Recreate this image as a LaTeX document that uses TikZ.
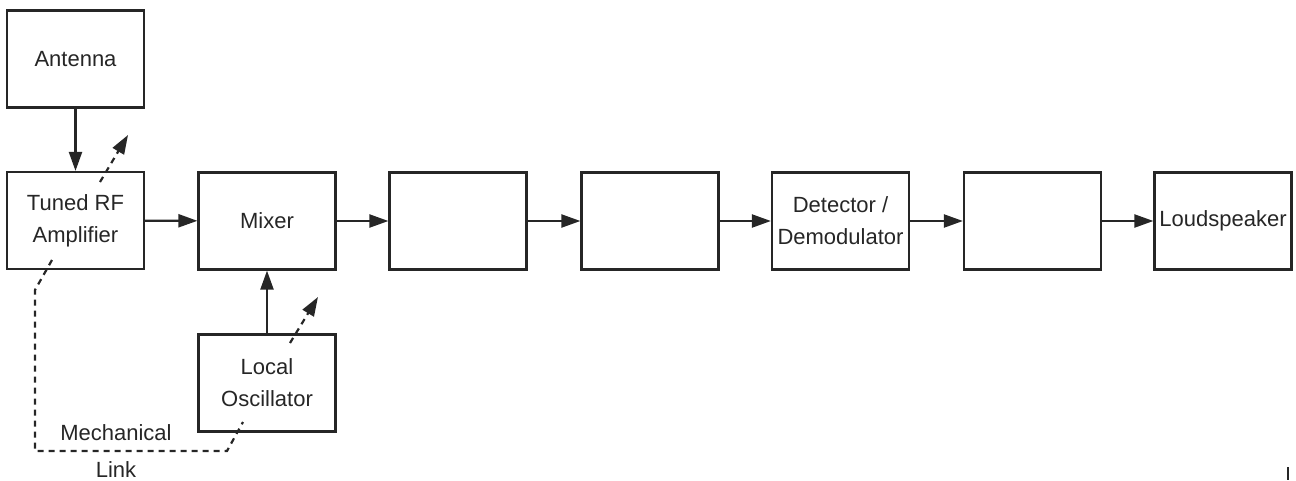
\documentclass[tikz,border=0pt]{standalone}
\usepackage{fontspec}
\setmainfont{Liberation Sans}
\usetikzlibrary{arrows.meta}
\begin{document}
\begin{tikzpicture}[x=1pt,y=-1pt,
  blk/.style={draw=black!85,line width=2.2pt,minimum width=137pt,minimum height=97pt,inner sep=0pt,align=center,font=\fontsize{22}{32}\selectfont,text=black!85},
  conn/.style={line width=2.2pt,draw=black!85,-{Triangle[length=19pt,width=13pt,fill=black!85]}},
  dconn/.style={line width=2.2pt,draw=black!85,dash pattern=on 6pt off 5pt,-{Triangle[length=19pt,width=13pt,fill=black!85]}},
  mlink/.style={line width=2.2pt,draw=black!85,dash pattern=on 6pt off 5pt},
  lbl/.style={font=\fontsize{22}{32}\selectfont,text=black!85,inner sep=0pt,anchor=base}]
\useasboundingbox (0,0) rectangle (1296,480);
\node[blk] (ant) at (75.5,59) {Antenna};
\node[blk] (rf) at (75.5,220.5) {Tuned RF\\Amplifier};
\node[blk] (mix) at (267,221) {Mixer};
\node[blk] (b3) at (458,221) {};
\node[blk] (b4) at (650,221) {};
\node[blk] (det) at (840.5,221) {Detector /\\Demodulator};
\node[blk] (b6) at (1032.5,221) {};
\node[blk] (ls) at (1223,221) {Loudspeaker};
\node[blk] (lo) at (267,383) {Local\\Oscillator};
\draw[conn] (ant) -- (rf);
\draw[conn] (rf) -- (mix);
\draw[conn] (mix) -- (b3);
\draw[conn] (b3) -- (b4);
\draw[conn] (b4) -- (det);
\draw[conn] (det) -- (b6);
\draw[conn] (b6) -- (ls);
\draw[conn] (lo) -- (mix);
\coordinate (t1s) at (100,182);
\coordinate (t1e) at (128,135);
\coordinate (t2s) at (290,343);
\coordinate (t2e) at (318,297);
\draw[dconn] (t1s) -- (t1e);
\draw[dconn] (t2s) -- (t2e);
\coordinate (m1) at (52,260);
\coordinate (m2) at (35,290);
\coordinate (m3) at (35,451);
\coordinate (m4) at (227,451);
\coordinate (m5) at (243,422);
\draw[mlink] (m1) -- (m2) -- (m3) -- (m4) -- (m5);
\node[lbl] (mech) at (116,440) {Mechanical};
\node[lbl] (link) at (116,477) {Link};
\coordinate (k1) at (1288,467);
\coordinate (k2) at (1288,480);
\draw[line width=1.2pt,black!85] (k1) -- (k2);
\end{tikzpicture}
\end{document}
